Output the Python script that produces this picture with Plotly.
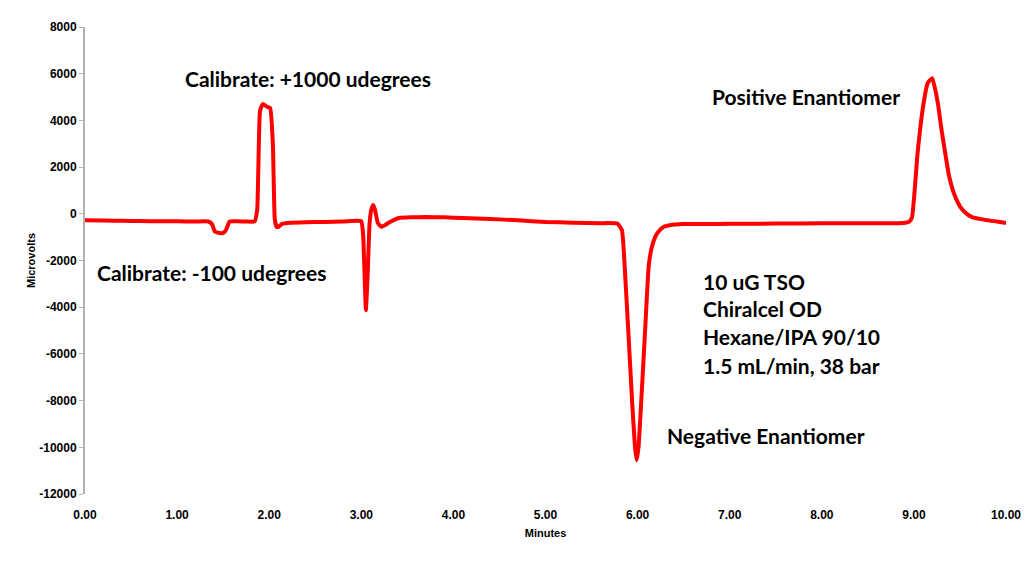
import plotly.graph_objects as go

# chromatogram trace (minutes, microvolts)
minutes = [0.00, 0.20, 0.40, 0.60, 0.80, 1.00, 1.20, 1.34, 1.38, 1.41, 1.46, 1.50, 1.53, 1.57, 1.65, 1.75, 1.84,
           1.87, 1.90, 1.93, 1.97, 2.01, 2.04, 2.06, 2.08, 2.10, 2.14, 2.23, 2.40, 2.60, 2.80, 2.96, 3.00,
           3.02, 3.05, 3.07, 3.09, 3.11, 3.13, 3.15, 3.18, 3.22, 3.26, 3.31, 3.41, 3.55, 3.70, 3.90, 4.10,
           4.40, 4.70, 5.00, 5.30, 5.60, 5.78, 5.83, 5.86, 5.90, 5.94, 5.97, 5.99, 6.01, 6.04, 6.08,
           6.12, 6.15, 6.19, 6.23, 6.28, 6.38, 6.49, 6.70, 7.00, 7.50, 8.00, 8.50, 8.88, 8.95, 8.98, 9.04, 9.10,
           9.15, 9.20, 9.26, 9.30, 9.34, 9.38, 9.42, 9.46, 9.50, 9.55, 9.63, 9.79, 9.90, 10.00]
microvolts = [-280, -290, -300, -310, -320, -320, -330, -330, -450, -760, -820, -820, -700, -330, -320, -330, -330,
              200, 4400, 4700, 4600, 4530, 3000, -200, -560, -560, -430, -380, -360, -350, -330, -300, -320,
              -900, -4120, -2500, -400, 200, 380, 150, -400, -560, -480, -350, -180, -150, -140, -150, -180,
              -220, -280, -350, -380, -400, -420, -700, -2270, -5100, -8000, -9900, -10550, -10000, -8000, -5100,
              -2270, -1500, -1000, -750, -570, -470, -440, -440, -430, -420, -410, -400, -390, -330, -140, 2600, 4600,
              5600, 5810, 4740, 3600, 2600, 1650, 1050, 630, 320, 80, -140, -270, -330, -390]

y_ticks = [8000, 6000, 4000, 2000, 0, -2000, -4000, -6000, -8000, -10000, -12000]
x_ticks = [0, 1, 2, 3, 4, 5, 6, 7, 8, 9, 10]

# label text and where it sits (minutes, microvolts)
labels = ["Calibrate: +1000 udegrees", "Calibrate: -100 udegrees", "Positive Enantiomer", "Negative Enantiomer",
          "10 uG TSO", "Chiralcel OD", "Hexane/IPA 90/10", "1.5 mL/min, 38 bar"]
label_x = [1.06, 0.11, 6.79, 6.30, 6.69, 6.69, 6.69, 6.69]
label_y = [5810, -2500, 5040, -9510, -2880, -4040, -5240, -6480]

fig = go.Figure()
fig.add_trace(go.Scatter(x=minutes, y=microvolts, mode="lines",
                         line=dict(color="#ff0000", width=4, shape="spline", smoothing=0.4),
                         hoverinfo="skip"))

for txt, lx, ly in zip(labels, label_x, label_y):
    fig.add_annotation(x=lx, y=ly, text=txt, showarrow=False, xanchor="left", yanchor="middle",
                       font=dict(family="Lato", size=21, color="black", weight="bold"))

tick_font = dict(family="Liberation Sans", size=12, color="black", weight="bold")
title_font = dict(family="Liberation Sans", size=11, color="black", weight="bold")
fig.update_layout(
    width=1024, height=562,
    margin=dict(l=85, r=18, t=27, b=68),
    paper_bgcolor="white", plot_bgcolor="white",
    showlegend=False,
    xaxis=dict(range=[0, 10], tickvals=x_ticks, ticktext=["%.2f" % v for v in x_ticks],
               showgrid=False, zeroline=False, showline=False, ticks="", ticklabelstandoff=12,
               tickfont=tick_font, automargin=False,
               title=dict(text="Minutes", font=title_font, standoff=8)),
    yaxis=dict(range=[-12000, 8000], tickvals=y_ticks, ticktext=[str(v) for v in y_ticks],
               showgrid=False, zeroline=False, automargin=False,
               showline=True, linecolor="#b3b3b3", linewidth=2, ticks="outside", ticklen=4,
               tickcolor="#b3b3b3", tickfont=tick_font,
               title=dict(text="Microvolts", font=title_font, standoff=1)),
)

# drop the default page margin so the figure fills the window exactly
fig.write_html("out.html", config={"displayModeBar": False},
               post_script="document.body.style.margin = '0px';")
